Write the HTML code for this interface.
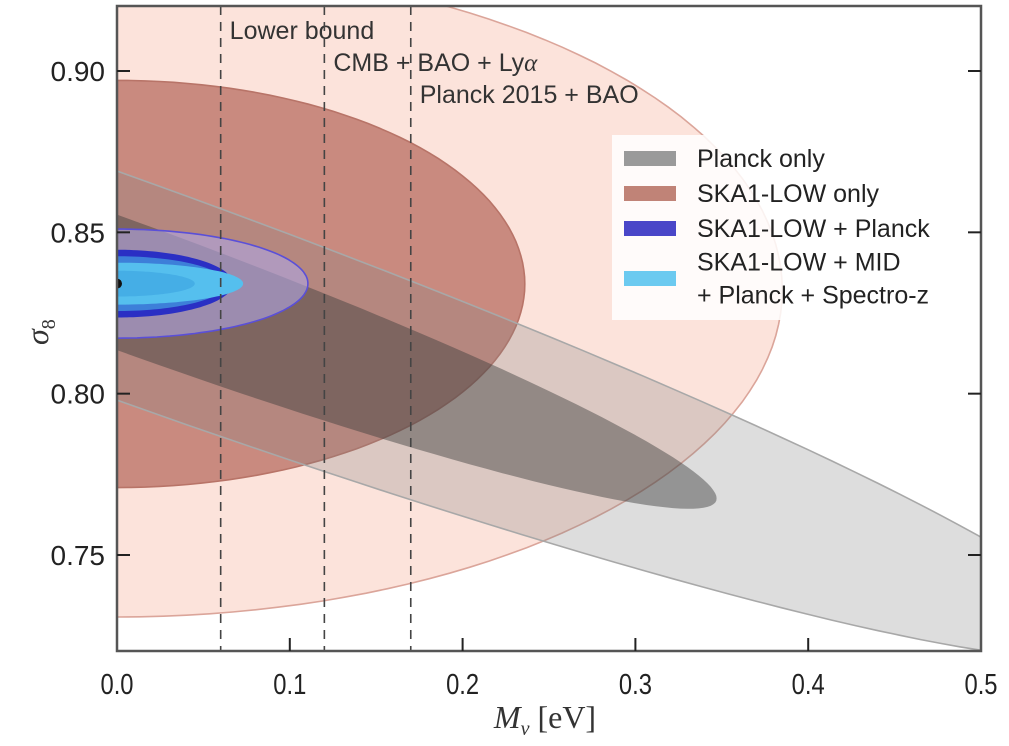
<!DOCTYPE html>
<html><head><meta charset="utf-8"><style>
body{margin:0;background:#fff;}
svg text{font-family:"Liberation Sans",sans-serif;}
</style></head><body>
<svg id="chart" width="1009" height="741" viewBox="0 0 1009 741" xmlns="http://www.w3.org/2000/svg">
<defs><clipPath id="plotclip"><rect x="117" y="6" width="864" height="645"/></clipPath></defs>
<g id="contours" clip-path="url(#plotclip)"></g>
<g id="overlay"></g>
</svg>
<script>
// ---- data ----
const xTicks = [0.0, 0.1, 0.2, 0.3, 0.4, 0.5];
const xTickLabels = ["0.0", "0.1", "0.2", "0.3", "0.4", "0.5"];
const yTicks = [0.75, 0.80, 0.85, 0.90];
const yTickLabels = ["0.75", "0.80", "0.85", "0.90"];
// ellipses: center M, center sigma, semi-axis in M, semi-axis in sigma, slope (degeneracy)
const ellipseNames = ["ska-low-2sigma","ska-low-1sigma","planck-2sigma","planck-1sigma","ska-planck-2sigma","ska-planck-1sigma-outer","ska-planck-1sigma-inner","ska-mid-2sigma","ska-mid-1sigma"];
const ellipseCM = [0, 0, 0, 0, 0, 0, 0, 0, 0];
const ellipseCS = [0.8321, 0.834, 0.8335, 0.8345, 0.8341, 0.8341, 0.8341, 0.8341, 0.8341];
const ellipseAM = [0.385, 0.236, 0.575, 0.347, 0.1105, 0.067, 0.063, 0.073, 0.045];
const ellipseBS = [0.1013, 0.0631, 0.0355, 0.021, 0.0169, 0.0105, 0.0085, 0.0065, 0.004];
const ellipseSlope = [0, 0, -0.191, -0.193, 0, 0, 0, 0, 0];
const ellipseFill = ["#fce3db","#c98a7f","rgba(130,130,130,0.27)","rgba(60,60,60,0.45)","rgba(175,165,225,0.62)","#2a2fc4","#3d7fd9","#55bfee","#45aee6"];
const ellipseStroke = ["#dba59a","#b87468","#a8a8a8","none","#5a4fd8","none","none","none","none"];
const boundValues = [0.06, 0.12, 0.17];
const boundLabels = ["Lower bound", "CMB + BAO + Ly", "Planck 2015 + BAO"];
const legendLabels = [["Planck only"],["SKA1-LOW only"],["SKA1-LOW + Planck"],["SKA1-LOW + MID"," + Planck + Spectro-z"]];
const legendColors = ["#9a9a9a","#c08377","#4a46c8","#6ccaf0"];

// ---- axes ----
const X0=117, X1=981, Y0=6, Y1=651;
const xS = m => X0 + (m - 0) / 0.5 * (X1 - X0);
const yS = s => 71 + (0.90 - s) / 0.15 * (555 - 71);
const NS="http://www.w3.org/2000/svg";
function mk(tag, attrs, parent){const e=document.createElementNS(NS,tag);for(const k in attrs)e.setAttribute(k,attrs[k]);parent.appendChild(e);return e;}
const cont=document.getElementById('contours');
const ov=document.getElementById('overlay');

mk('rect',{x:X0,y:Y0,width:X1-X0,height:Y1-Y0,fill:'#fff'},cont);
for(let i=0;i<ellipseNames.length;i++){
  let d='';
  for(let k=0;k<=180;k++){
    const t=k/180*2*Math.PI;
    const dm=ellipseAM[i]*Math.cos(t);
    const m=ellipseCM[i]+dm;
    const s=ellipseCS[i]+ellipseSlope[i]*dm+ellipseBS[i]*Math.sin(t);
    d+=(k?'L':'M')+xS(m).toFixed(1)+' '+yS(s).toFixed(1);
  }
  const p=mk('path',{d:d+'Z',fill:ellipseFill[i],stroke:ellipseStroke[i],'stroke-width':1.6},cont);
  
  
}
const dot=mk('circle',{cx:xS(0),cy:yS(0.8341),r:5,fill:'#111'},cont);



// dashed bounds
for(let i=0;i<boundValues.length;i++){
  const l=mk('line',{x1:xS(boundValues[i]),x2:xS(boundValues[i]),y1:Y0,y2:Y1,stroke:'#444','stroke-width':1.6,'stroke-dasharray':'9,7'},ov);
  
  
  const t=mk('text',{x:xS(boundValues[i])+9,y:39+i*32,'font-size':25,fill:'#333'},ov);
  t.textContent=boundLabels[i];
  if(i===1){const g=mk('tspan',{'font-family':'Liberation Serif, serif','font-style':'italic'},t);g.textContent='α';}
  
  
}

// frame
const fr=mk('rect',{x:X0,y:Y0,width:X1-X0,height:Y1-Y0,fill:'none',stroke:'#555','stroke-width':2.5},ov);



// ticks
for(let i=0;i<xTicks.length;i++){
  const x=xS(xTicks[i]);
  if(i>0&&i<xTicks.length-1){mk('line',{x1:x,x2:x,y1:Y1,y2:Y1-13,stroke:'#222','stroke-width':2},ov);}
  const t=mk('text',{x:x,y:694,'font-size':29,'text-anchor':'middle',fill:'#222',transform:`translate(${x},694) scale(0.82,1) translate(${-x},-694)`},ov);
  t.textContent=xTickLabels[i];
  
  
}
for(let i=0;i<yTicks.length;i++){
  const y=yS(yTicks[i]);
  mk('line',{x1:X0,x2:X0+13,y1:y,y2:y,stroke:'#222','stroke-width':2},ov);
  mk('line',{x1:X1,x2:X1-13,y1:y,y2:y,stroke:'#222','stroke-width':2},ov);
  const t=mk('text',{x:105,y:y+10,'font-size':28,'text-anchor':'end',fill:'#222'},ov);
  t.textContent=yTickLabels[i];
  
  
}

// axis titles
const xt=mk('text',{x:545,y:728,'font-size':32,'text-anchor':'middle',fill:'#333'},ov);
xt.style.fontFamily='"Liberation Serif", serif';
xt.innerHTML='<tspan font-style="italic">M</tspan><tspan font-style="italic" font-size="20" dy="7">ν</tspan><tspan dy="-7"> [eV]</tspan>';


const yt=mk('text',{x:0,y:0,'font-size':32,fill:'#333',transform:'translate(48,345) rotate(-90)'},ov);
yt.style.fontFamily='"Liberation Serif", serif';
yt.innerHTML='<tspan font-style="italic">σ</tspan><tspan font-size="20" dy="7">8</tspan>';



// legend
const lg=mk('g',{},ov);


mk('rect',{x:612,y:135,width:352,height:185,fill:'rgba(255,255,255,0.85)'},lg);
const rowY=[158,193,228,278];
for(let i=0;i<legendLabels.length;i++){
  const e=mk('g',{},lg);
  
  
  mk('rect',{x:624,y:rowY[i]-7,width:52,height:15,fill:legendColors[i]},e);
  const lines=legendLabels[i];
  for(let j=0;j<lines.length;j++){
    const t=mk('text',{x:697,y:rowY[i]+9+(lines.length>1?(j-0.5)*33:0),'font-size':25,fill:'#222'},e);
    t.textContent=lines[j];
  }
}
</script>
</body></html>
